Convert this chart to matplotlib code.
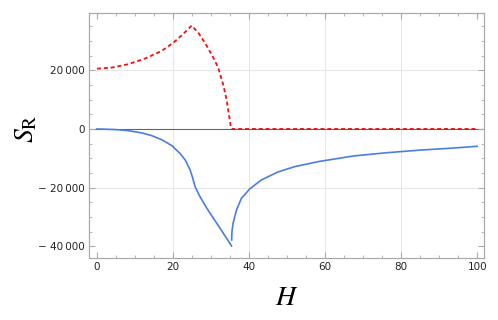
import matplotlib.pyplot as plt
import matplotlib.ticker as mticker

# curva roja (punteada)
h_rojo = [0, 3.9, 8.2, 12.6, 17.0, 20.1, 22.7, 24.9, 26.7, 28.4, 30.2, 31.9,
          33.2, 34.1, 34.7, 35.2, 35.4, 35.45, 100]
s_rojo = [20540, 20900, 22050, 23960, 26570, 29400, 32370, 35200, 32700, 29300,
          25300, 20800, 15100, 9980, 4870, 920, 0, 0, 0]

# curva azul, antes del salto
h_azul1 = [0, 4.7, 8.2, 11.8, 14.4, 17.0, 19.7, 21.8, 23.2, 24.5, 25.2, 25.8,
           27.1, 28.9, 31.5, 34.1, 35.4]
s_azul1 = [0, -200, -570, -1360, -2280, -3640, -5690, -8290, -10560, -13970,
           -16800, -19660, -23060, -27020, -32130, -37240, -39860]

# curva azul, después del salto
h_azul2 = [35.42, 35.5, 35.8, 36.7, 38.0, 40.2, 43.2, 47.6, 52.0, 58.3, 67.5,
           76.2, 85.0, 93.8, 100]
s_azul2 = [-37820, -35000, -32100, -27600, -23600, -20400, -17400, -14650,
           -12840, -11100, -9200, -8100, -7200, -6500, -5900]

x_ticks = [0, 20, 40, 60, 80, 100]
y_ticks = [-40000, -20000, 0, 20000]


def formato(v, pos):
    if v == 0:
        return '0'
    s = f'{abs(int(v)):,}'.replace(',', '\u2009')
    return ('\u2212 ' if v < 0 else '') + s


plt.rcParams['mathtext.fontset'] = 'stix'
fig = plt.figure(figsize=(4.98, 3.2), dpi=100)
ax = fig.add_axes([0.1787, 0.1938, 0.7932, 0.7656])

gris = '#aaaaaa'
for v in [20, 40, 60, 80]:
    ax.axvline(v, color='#e6e6e6', lw=0.7, zorder=0)
for v in [-20000, 20000]:
    ax.axhline(v, color='#e6e6e6', lw=0.7, zorder=0)
ax.axhline(0, color='#666666', lw=0.8, zorder=1)

ax.plot(h_azul1, s_azul1, color='#4a7ee0', lw=1.2, zorder=3)
ax.plot(h_azul2, s_azul2, color='#4a7ee0', lw=1.2, zorder=3)
ax.plot(h_rojo, s_rojo, color='#ee1111', lw=1.3, dashes=(2.2, 1.6), zorder=4)

ax.set_xlim(-2.1, 101.8)
ax.set_ylim(-43950, 39500)
ax.set_xticks(x_ticks)
ax.set_yticks(y_ticks)
ax.xaxis.set_minor_locator(mticker.MultipleLocator(5))
ax.yaxis.set_minor_locator(mticker.MultipleLocator(5000))
ax.yaxis.set_major_formatter(mticker.FuncFormatter(formato))

for s in ax.spines.values():
    s.set_color(gris)
    s.set_linewidth(0.9)
ax.tick_params(which='both', direction='in', top=True, right=True, color=gris,
               labelsize=7.5, labelcolor='#222222', pad=3)
ax.tick_params(which='major', length=4, width=0.8)
ax.tick_params(which='minor', length=2.3, width=0.6)

fig.text(0.05, 0.597, r'$S_{\mathrm{R}}$', fontsize=20, rotation=90,
         ha='center', va='center')
fig.text(0.576, 0.072, r'$H$', fontsize=20, ha='center', va='center')

fig.savefig('out.png', dpi=100)
